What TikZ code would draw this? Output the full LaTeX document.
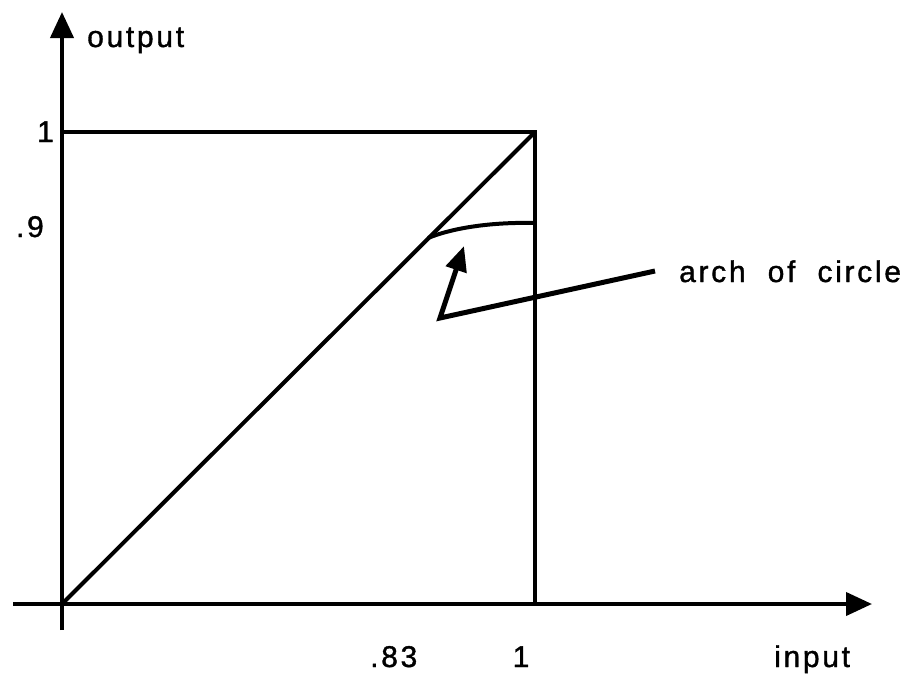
\documentclass[tikz,border=0pt]{standalone}
\usepackage{fontspec}
\setmainfont{Liberation Sans}[LetterSpace=9, FakeBold=1.2]
\usetikzlibrary{arrows.meta}

\begin{document}
\begin{tikzpicture}[
  x=1pt, y=-1pt,
  frame/.style={line width=4pt},
  axis/.style={frame, -{Triangle[length=26pt,width=23pt]}},
  pointer/.style={line width=5pt, line join=miter,
                  -{Triangle[length=25pt,width=21pt]}},
  lbl/.style={font=\fontsize{30}{34}\selectfont, inner sep=0pt}
]
\useasboundingbox (0,0) rectangle (911,673);
% key points
\coordinate (O)      at (62,604);
\coordinate (xstart) at (13,604);
\coordinate (xend)   at (872,604);
\coordinate (ystart) at (62,630);
\coordinate (yend)   at (62,12);
\coordinate (topleft) at (62,132);
\coordinate (corner) at (535,132);
\coordinate (foot)   at (535,604);
\coordinate (arcA)   at (428,238);
\coordinate (arcB)   at (535,223);
\coordinate (ptr)    at (655,271);
\coordinate (bend)   at (440,318);
\coordinate (tip)    at (464,246);

% axes
\draw[axis] (xstart) -- (xend);
\draw[axis] (ystart) -- (yend);

% unit square and identity
\draw[frame] (topleft) -- (corner) -- (foot);
\draw[frame] (O) -- (corner);
\draw[frame] (arcA) .. controls (455,227) and (495,222) .. (arcB);

% labels
\node[lbl, anchor=base west] (out) at (87,47) {output};
\node[lbl, anchor=base east] (one) at (54,142) {1};
\node[lbl, anchor=base east] (nine) at (44,237) {.9};
\node[lbl, anchor=base west] (eighty) at (370,667) {.83};
\node[lbl, anchor=base] (onex) at (521,667) {1};
\node[lbl, anchor=base west] (in) at (774,667) {input};
\node[lbl, anchor=base west] (arch) at (679,282) {arch\ \ of\ \ circle};

% pointer to the arc
\draw[pointer] (ptr) -- (bend) -- (tip);
\end{tikzpicture}
\end{document}
